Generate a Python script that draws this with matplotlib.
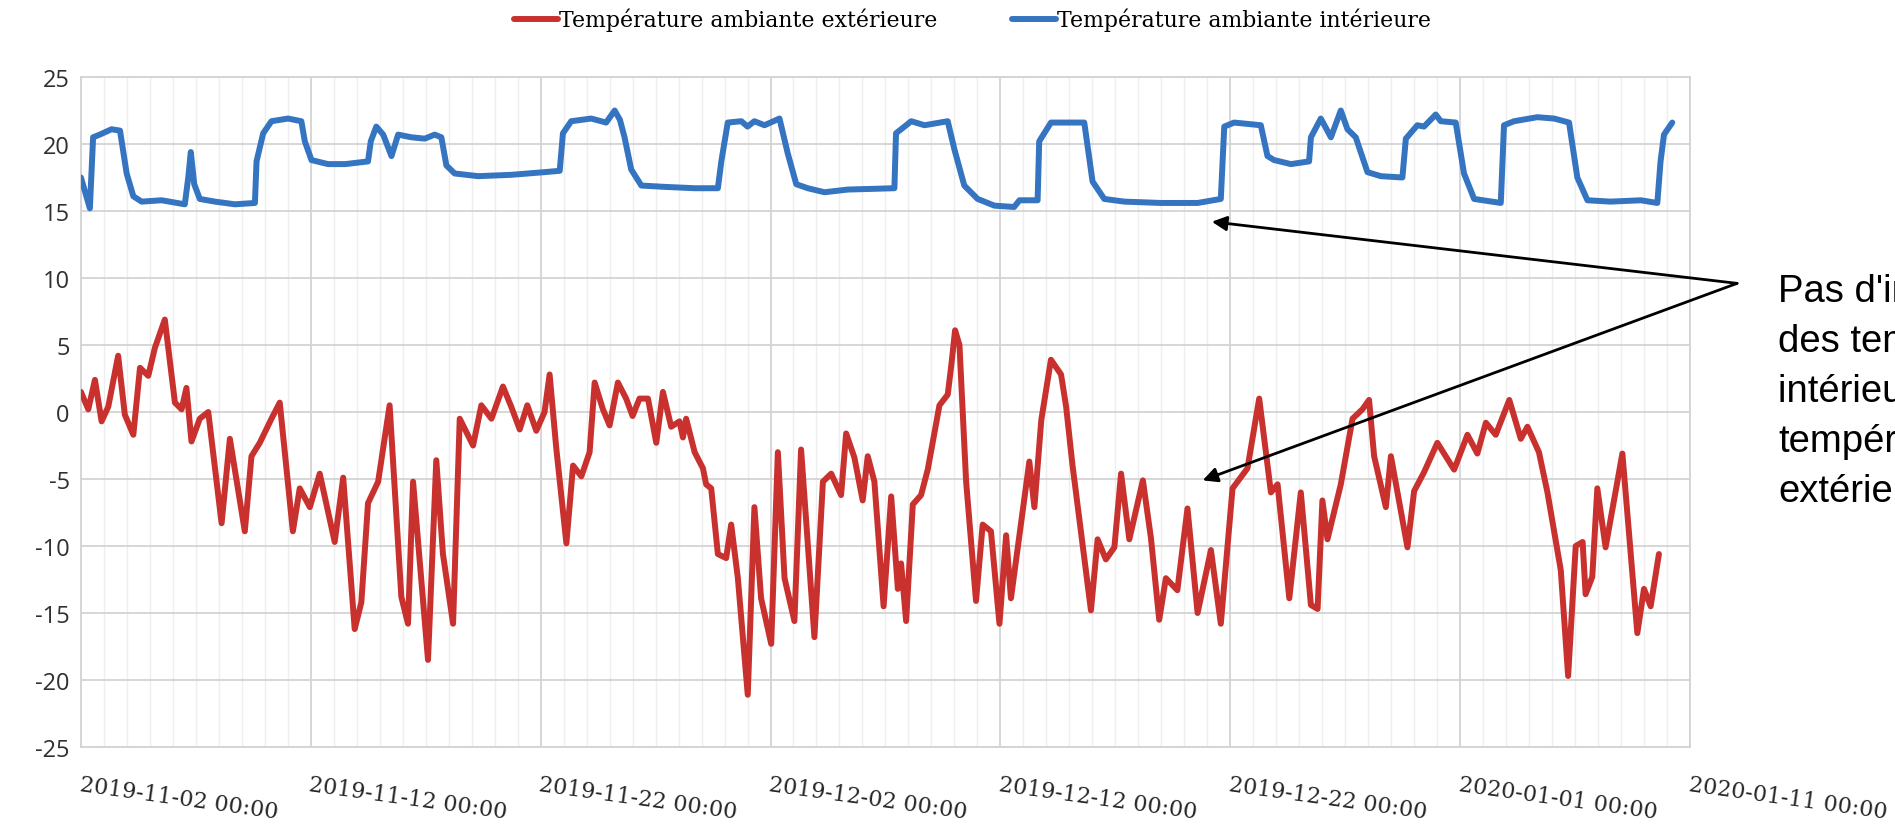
import pandas as pd
import matplotlib
matplotlib.use("Agg")
import matplotlib.pyplot as plt
import matplotlib.dates as mdates
from matplotlib.lines import Line2D

plt.rcParams["axes.unicode_minus"] = False

# Time axis origin: readings are given as day offsets from this instant
start = pd.Timestamp("2019-11-02 00:00")

# Outdoor ambient temperature (°C)
ext_days = [0.00, 0.32, 0.61, 0.90, 1.19, 1.62, 1.91, 2.28, 2.57, 2.93, 3.22, 3.65, 4.09, 4.38,
            4.59, 4.81, 5.17, 5.54, 6.12, 6.48, 7.13, 7.42, 7.78, 8.29, 8.65, 9.22, 9.52, 9.96,
            10.39, 11.04, 11.41, 11.91, 12.20, 12.49, 12.93, 13.43, 13.94, 14.23, 14.45, 15.10,
            15.46, 15.75, 16.19, 16.48, 17.06, 17.42, 17.86, 18.36, 18.72, 19.09, 19.42, 19.81,
            20.17, 20.39, 20.68, 21.12, 21.41, 21.77, 22.13, 22.35, 22.71, 23.00, 23.36, 23.72,
            24.00, 24.30, 24.67, 25.03, 25.32, 25.68, 26.04, 26.19, 26.33, 26.70, 27.06, 27.20,
            27.42, 27.71, 28.07, 28.29, 28.58, 29.01, 29.30, 29.59, 30.03, 30.32, 30.61, 31.04,
            31.33, 31.91, 32.28, 32.64, 33.07, 33.29, 33.65, 34.01, 34.23, 34.52, 34.92, 35.25,
            35.54, 35.68, 35.90, 36.19, 36.55, 36.84, 37.35, 37.71, 37.86, 38.03, 38.22, 38.51,
            38.94, 39.23, 39.59, 39.96, 40.25, 40.46, 40.90, 41.26, 41.48, 41.78, 42.20, 42.64,
            42.86, 43.14, 43.94, 44.23, 44.59, 44.96, 45.25, 45.61, 46.20, 46.55, 46.91, 47.20,
            47.70, 48.14, 48.58, 49.16, 49.59, 50.10, 50.75, 51.26, 51.77, 52.06, 52.57, 53.07,
            53.51, 53.80, 54.01, 54.23, 54.81, 55.32, 55.75, 56.04, 56.26, 56.77, 56.99, 57.71,
            58.00, 58.43, 59.01, 59.74, 60.32, 60.75, 61.12, 61.55, 62.14, 62.64, 62.93, 63.43,
            63.80, 64.38, 64.70, 65.03, 65.33, 65.46, 65.75, 65.97, 66.33, 67.06, 67.71, 68.00,
            68.29, 68.65]
ext_temp = [1.5, 0.2, 2.4, -0.7, 0.4, 4.2, -0.2, -1.7, 3.3, 2.7, 4.8, 6.9, 0.7, 0.2,
            1.8, -2.2, -0.5, 0.0, -8.3, -2.0, -8.9, -3.3, -2.3, -0.5, 0.7, -8.9, -5.7, -7.1,
            -4.6, -9.7, -4.9, -16.2, -14.2, -6.8, -5.2, 0.5, -13.8, -15.8, -5.2, -18.5,
            -3.6, -10.6, -15.8, -0.5, -2.5, 0.5, -0.5, 1.9, 0.4, -1.3, 0.5, -1.4,
            0.0, 2.8, -2.7, -9.8, -4.0, -4.8, -3.0, 2.2, 0.2, -1.0, 2.2, 1.0,
            -0.3, 1.0, 1.0, -2.3, 1.5, -1.1, -0.7, -1.9, -0.5, -3.0, -4.2, -5.4,
            -5.7, -10.6, -10.9, -8.4, -12.4, -21.1, -7.1, -13.9, -17.3, -3.0, -12.4, -15.6,
            -2.8, -16.8, -5.2, -4.6, -6.2, -1.6, -3.4, -6.6, -3.3, -5.2, -14.5, -6.3,
            -13.2, -11.3, -15.6, -6.9, -6.2, -4.3, 0.5, 1.3, 3.4, 6.1, 5.0, -5.2,
            -14.1, -8.4, -8.9, -15.8, -9.2, -13.9, -8.3, -3.7, -7.1, -0.6, 3.9, 2.8,
            0.4, -4.0, -14.8, -9.5, -11.0, -10.1, -4.6, -9.5, -5.1, -9.4, -15.5, -12.4,
            -13.3, -7.2, -15.0, -10.3, -15.8, -5.7, -4.2, 1.0, -6.0, -5.4, -13.9, -6.0,
            -14.4, -14.7, -6.6, -9.5, -5.4, -0.5, 0.2, 0.9, -3.3, -7.1, -3.3, -10.1,
            -5.9, -4.5, -2.3, -4.3, -1.7, -3.1, -0.8, -1.7, 0.9, -2.0, -1.1, -3.0,
            -6.0, -11.8, -19.7, -10.0, -9.7, -13.6, -12.3, -5.7, -10.1, -3.1, -16.5, -13.2,
            -14.5, -10.6]

# Indoor ambient temperature (°C)
int_days = [0.00, 0.39, 0.53, 0.82, 1.33, 1.70, 1.99, 2.28, 2.64, 3.51, 4.52, 4.67, 4.78, 4.93,
            5.17, 5.83, 6.70, 7.57, 7.64, 7.93, 8.29, 9.01, 9.59, 9.74, 10.03, 10.75, 11.50,
            12.49, 12.61, 12.85, 13.15, 13.51, 13.80, 14.38, 14.96, 15.39, 15.68, 15.90, 16.26,
            17.28, 18.72, 20.17, 20.83, 20.97, 21.33, 22.20, 22.85, 23.22, 23.45, 23.65, 23.94,
            24.38, 25.40, 26.70, 27.71, 27.86, 28.14, 28.73, 29.00, 29.30, 29.74, 30.39, 30.75,
            31.12, 31.62, 32.35, 33.36, 35.39, 35.46, 35.83, 36.12, 36.70, 37.71, 38.00, 38.43,
            39.01, 39.74, 40.60, 40.83, 41.62, 41.69, 42.20, 43.65, 44.01, 44.52, 45.39, 46.99,
            48.58, 49.59, 49.74, 50.17, 51.33, 51.62, 51.91, 52.64, 53.43, 53.51, 53.94, 54.38,
            54.81, 55.10, 55.46, 55.97, 56.55, 57.49, 57.64, 58.14, 58.43, 58.94, 59.16, 59.81,
            60.17, 60.61, 61.77, 61.91, 62.35, 63.36, 64.09, 64.74, 65.10, 65.54, 66.55, 67.86,
            68.58, 68.72, 68.87, 69.23]
int_temp = [17.5, 15.2, 20.5, 20.7, 21.1, 21.0, 17.8, 16.1, 15.7, 15.8, 15.5, 17.5, 19.4, 17.0,
            15.9, 15.7, 15.5, 15.6, 18.7, 20.8, 21.7, 21.9, 21.7, 20.2, 18.8, 18.5, 18.5,
            18.7, 20.2, 21.3, 20.7, 19.1, 20.7, 20.5, 20.4, 20.7, 20.5, 18.4, 17.8,
            17.6, 17.7, 17.9, 18.0, 20.8, 21.7, 21.9, 21.6, 22.5, 21.8, 20.5, 18.1,
            16.9, 16.8, 16.7, 16.7, 18.7, 21.6, 21.7, 21.3, 21.7, 21.4, 21.9, 19.3,
            17.0, 16.7, 16.4, 16.6, 16.7, 20.8, 21.3, 21.7, 21.4, 21.7, 19.6, 16.9,
            15.9, 15.4, 15.3, 15.8, 15.8, 20.2, 21.6, 21.6, 17.2, 15.9, 15.7, 15.6,
            15.6, 15.9, 21.3, 21.6, 21.4, 19.1, 18.8, 18.5, 18.7, 20.5, 21.9, 20.5,
            22.5, 21.1, 20.5, 17.9, 17.6, 17.5, 20.4, 21.4, 21.3, 22.2, 21.7, 21.6,
            17.8, 15.9, 15.6, 21.4, 21.7, 22.0, 21.9, 21.6, 17.5, 15.8, 15.7, 15.8,
            15.6, 18.7, 20.7, 21.6]

series_labels = ["Température ambiante extérieure", "Température ambiante intérieure"]
x_ticks = pd.date_range("2019-11-02", "2020-01-11", freq="10D")
x_tick_labels = [d.strftime("%Y-%m-%d %H:%M") for d in x_ticks]
y_ticks = list(range(-25, 30, 5))

note_text = "Pas d'influence\ndes températures\nintérieures par la\ntempérature\nextérieure"

RED = "#c8312d"
BLUE = "#3474c0"
GRID = "#d3d3d3"

ext_t = start + pd.to_timedelta(ext_days, unit="D")
int_t = start + pd.to_timedelta(int_days, unit="D")

fig = plt.figure(figsize=(18.95, 8.28), dpi=100)
ax = fig.add_axes([0.0427, 0.0966, 0.8491, 0.8092])

l_ext, = ax.plot(ext_t, ext_temp, color=RED, lw=4.3, solid_joinstyle="round",
                 solid_capstyle="round", zorder=3)
l_int, = ax.plot(int_t, int_temp, color=BLUE, lw=4.3, solid_joinstyle="round",
                 solid_capstyle="round", zorder=3)

ax.set_xlim(x_ticks[0], x_ticks[-1])
ax.set_ylim(-25, 25)
ax.set_yticks(y_ticks)
ax.set_xticks(x_ticks)
ax.set_xticklabels(x_tick_labels, rotation=-8, ha="left", va="top",
                   rotation_mode="anchor", family="DejaVu Serif", fontsize=16,
                   color="#262626")
ax.xaxis.set_minor_locator(mdates.DayLocator())
for lab in ax.get_yticklabels():
    lab.set_family("Open Sans")
    lab.set_fontsize(17)
    lab.set_color("#303030")

ax.tick_params(axis="both", which="both", length=0)
ax.tick_params(axis="x", pad=19)
ax.tick_params(axis="y", pad=8)

ax.grid(True, which="major", axis="both", color=GRID, lw=1.3, zorder=0)
ax.grid(True, which="minor", axis="x", color="#eeeeee", lw=1.0, zorder=0)
ax.set_axisbelow(True)
for sp in ax.spines.values():
    sp.set_color(GRID)
    sp.set_linewidth(1.3)

# Legend across the top
fig.legend(handles=[Line2D([], [], color=RED, lw=4.3, solid_capstyle="round"),
                    Line2D([], [], color=BLUE, lw=4.3, solid_capstyle="round")],
           labels=series_labels, loc="center", bbox_to_anchor=(0.513, 0.975), ncol=2,
           frameon=False, prop=dict(family="DejaVu Serif", size=15.8),
           handlelength=2.0, handletextpad=0.05, columnspacing=3.4)

# Callout arrows from the note to both curves
apex = (start + pd.Timedelta(days=72.05), 9.6)
arrow_kw = dict(arrowstyle="-|>", color="black", lw=2.0, mutation_scale=22,
                shrinkA=0, shrinkB=0)
ax.annotate("", xy=(start + pd.Timedelta(days=49.2), 14.2), xytext=apex,
            arrowprops=arrow_kw, annotation_clip=False, zorder=5)
ax.annotate("", xy=(start + pd.Timedelta(days=48.8), -5.1), xytext=apex,
            arrowprops=arrow_kw, annotation_clip=False, zorder=5)

fig.text(1778 / 1895, 1 - 274 / 828, note_text, ha="left", va="top",
         family="Liberation Sans", fontsize=27.5, linespacing=1.5, color="black")

fig.savefig("out.png", dpi=100, facecolor="white")
